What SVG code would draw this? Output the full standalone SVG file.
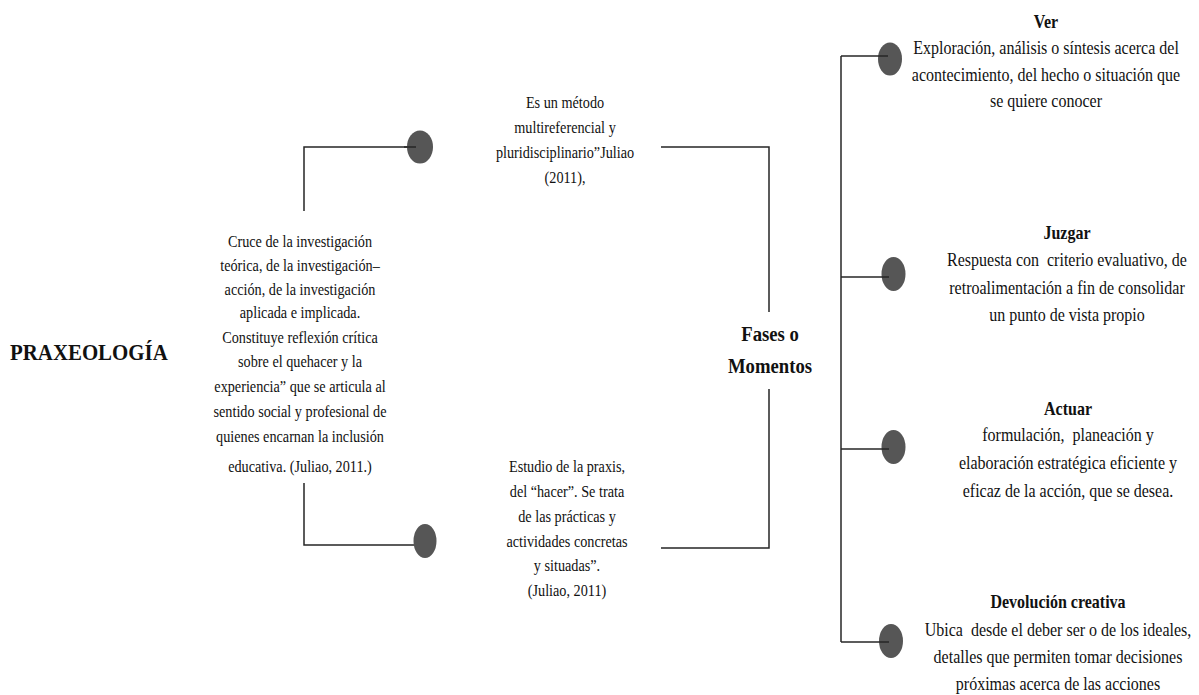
<svg xmlns="http://www.w3.org/2000/svg" width="1199" height="695" viewBox="0 0 1199 695">
<style>
  text { font-family: "Liberation Serif", "Times New Roman", serif; fill: #111; white-space: pre; }
  .t { font-size: 16px; text-anchor: middle; }
  .r { font-size: 18px; text-anchor: middle; }
  .rb { font-size: 18px; font-weight: bold; text-anchor: middle; }
  .fb { font-size: 21px; font-weight: bold; text-anchor: middle; }
  .big { font-size: 24px; font-weight: bold; }
  .dot { fill: #565656; }
  .ln { stroke: #262626; stroke-width: 1.5; fill: none; }
</style>
<rect width="1199" height="695" fill="#ffffff"/>

<g id="connectors">
  <polyline class="ln" points="304,211 304,147 414,147"/>
  <polyline class="ln" points="304,483 304,545 416,545"/>
  <polyline class="ln" points="661,147 769,147 769,312"/>
  <polyline class="ln" points="769,389 769,548 661,548"/>
  <line class="ln" x1="841" y1="56" x2="841" y2="642"/>
</g>

<g id="praxeologia">
  <g transform="translate(10,0) scale(0.87,1)">
    <text class="big" x="0" y="360">PRAXEOLOGÍA</text>
  </g>
</g>

<g id="definicion">
  <g transform="translate(300,0) scale(0.89,1)">
    <text class="t" x="0" y="247">Cruce de la investigación</text>
    <text class="t" x="0" y="271">teórica, de la investigación–</text>
    <text class="t" x="0" y="295">acción, de la investigación</text>
    <text class="t" x="0" y="318">aplicada e implicada.</text>
    <text class="t" x="0" y="343">Constituye reflexión crítica</text>
    <text class="t" x="0" y="367">sobre el quehacer y la</text>
    <text class="t" x="0" y="392">experiencia” que se articula al</text>
    <text class="t" x="0" y="417">sentido social y profesional de</text>
    <text class="t" x="0" y="442">quienes encarnan la inclusión</text>
    <text class="t" x="0" y="472">educativa. (Juliao, 2011.)</text>
  </g>
</g>

<g id="punto-metodo">
  <ellipse class="dot" cx="420" cy="147" rx="13" ry="16.5"/>
  <line class="ln" x1="404" y1="147" x2="416" y2="147"/>
</g>
<g id="punto-estudio">
  <ellipse class="dot" cx="425" cy="541" rx="11.5" ry="17"/>
</g>

<g id="metodo">
  <g transform="translate(565,0) scale(0.89,1)">
    <text class="t" x="0" y="108">Es un método</text>
    <text class="t" x="0" y="133">multireferencial y</text>
    <text class="t" x="0" y="158">pluridisciplinario”Juliao</text>
    <text class="t" x="0" y="183">(2011),</text>
  </g>
</g>

<g id="estudio">
  <g transform="translate(567,0) scale(0.89,1)">
    <text class="t" x="0" y="472">Estudio de la praxis,</text>
    <text class="t" x="0" y="497">del “hacer”. Se trata</text>
    <text class="t" x="0" y="522">de las prácticas y</text>
    <text class="t" x="0" y="547">actividades concretas</text>
    <text class="t" x="0" y="571">y situadas”.</text>
    <text class="t" x="0" y="596">(Juliao, 2011)</text>
  </g>
</g>

<g id="fases">
  <g transform="translate(770,0) scale(0.89,1)">
    <text class="fb" x="0" y="341">Fases o</text>
    <text class="fb" x="0" y="373">Momentos</text>
  </g>
</g>

<g id="ver">
  <ellipse class="dot" cx="890" cy="59" rx="12" ry="16.5"/>
  <line class="ln" x1="841" y1="56" x2="888" y2="56"/>
  <g transform="translate(1046,0) scale(0.89,1)">
    <text class="rb" x="0" y="28">Ver</text>
    <text class="r" x="0" y="54">Exploración, análisis o síntesis acerca del</text>
    <text class="r" x="0" y="81">acontecimiento, del hecho o situación que</text>
    <text class="r" x="0" y="107">se quiere conocer</text>
  </g>
</g>

<g id="juzgar">
  <ellipse class="dot" cx="893.5" cy="274" rx="12" ry="17"/>
  <line class="ln" x1="841" y1="277" x2="889" y2="277"/>
  <g transform="translate(1067,0) scale(0.89,1)">
    <text class="rb" x="0" y="239">Juzgar</text>
    <text class="r" x="0" y="266">Respuesta con  criterio evaluativo, de</text>
    <text class="r" x="0" y="294">retroalimentación a fin de consolidar</text>
    <text class="r" x="0" y="321">un punto de vista propio</text>
  </g>
</g>

<g id="actuar">
  <ellipse class="dot" cx="893.5" cy="447" rx="12" ry="17"/>
  <line class="ln" x1="841" y1="449" x2="889" y2="449"/>
  <g transform="translate(1068,0) scale(0.89,1)">
    <text class="rb" x="0" y="415">Actuar</text>
    <text class="r" x="0" y="441">formulación,  planeación y</text>
    <text class="r" x="0" y="469">elaboración estratégica eficiente y</text>
    <text class="r" x="0" y="497">eficaz de la acción, que se desea.</text>
  </g>
</g>

<g id="devolucion">
  <ellipse class="dot" cx="891" cy="641" rx="12" ry="17"/>
  <line class="ln" x1="841" y1="642" x2="889" y2="642"/>
  <g transform="translate(1058,0) scale(0.89,1)">
    <text class="rb" x="0" y="608">Devolución creativa</text>
    <text class="r" x="0" y="636">Ubica  desde el deber ser o de los ideales,</text>
    <text class="r" x="0" y="663">detalles que permiten tomar decisiones</text>
    <text class="r" x="0" y="690">próximas acerca de las acciones</text>
  </g>
</g>
</svg>
